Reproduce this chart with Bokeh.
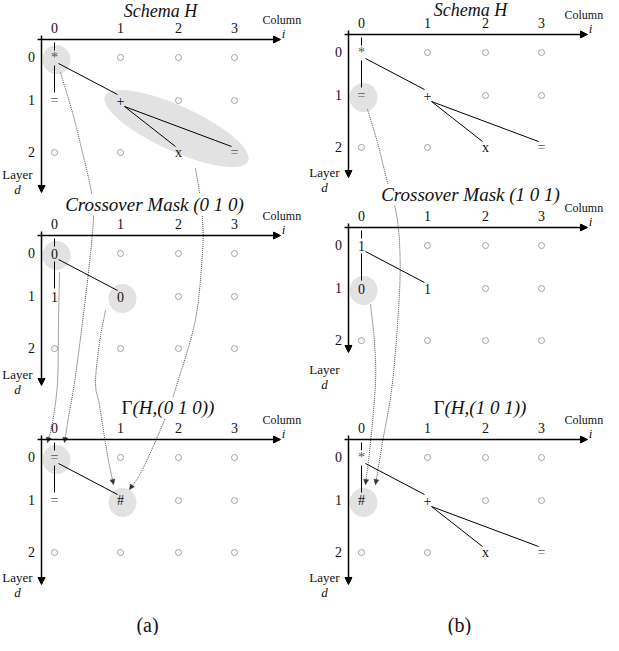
import numpy as np
from bokeh.plotting import figure
from bokeh.models import Range1d, Arrow, NormalHead, Label
from bokeh.core.properties import value
from bokeh.embed import file_html
from bokeh.resources import INLINE

# ---------------- content ----------------
panel_keys = ["a_top", "b_top", "a_mid", "b_mid", "a_bot", "b_bot"]
titles = ["Schema H", "Schema H", "Crossover Mask (0 1 0)", "Crossover Mask (1 0 1)",
          "(H,(0 1 0))", "(H,(1 0 1))"]
title_prefix = ["", "", "", "", "Γ", "Γ"]
col_ticks = ["0", "1", "2", "3"]
row_ticks = ["0", "1", "2"]
sub_labels = ["(a)", "(b)"]

# symbols at (row, col) in each panel; all other grid cells are empty circles
nodes = {
    "a_top": [("*", 0, 0), ("=", 1, 0), ("+", 1, 1), ("x", 2, 2), ("=", 2, 3)],
    "b_top": [("*", 0, 0), ("=", 1, 0), ("+", 1, 1), ("x", 2, 2), ("=", 2, 3)],
    "a_mid": [("0", 0, 0), ("1", 1, 0), ("0", 1, 1)],
    "b_mid": [("1", 0, 0), ("0", 1, 0), ("1", 1, 1)],
    "a_bot": [("=", 0, 0), ("=", 1, 0), ("#", 1, 1)],
    "b_bot": [("*", 0, 0), ("#", 1, 0), ("+", 1, 1), ("x", 2, 2), ("=", 2, 3)],
}
schema_edges = [((0, 0), (1, 1)), ((1, 1), (2, 2)), ((1, 1), (2, 3))]
mask_edges = [((0, 0), (1, 1))]
edges = {"a_top": schema_edges, "b_top": schema_edges, "a_mid": mask_edges,
         "b_mid": mask_edges, "a_bot": mask_edges, "b_bot": schema_edges}
# highlighted nodes (gray blobs)
highlights = {"a_top": [(0, 0)], "b_top": [(1, 0)], "a_mid": [(0, 0), (1, 1)],
              "b_mid": [(1, 0)], "a_bot": [(0, 0), (1, 1)], "b_bot": [(1, 0)]}
# highlighted subtree (elongated blob) : panel, first node, last node
subtree_blob = ("a_top", (1, 1), (2, 3))

# ---------------- layout ----------------
axis_x = [49, 356, 49, 356, 49, 356]
axis_y = [47, 42, 243, 235, 447, 447]
v_axis_end = [200, 185, 393, 360, 592, 592]
layer_label_y = [182, 180, 382, 377, 585, 585]
title_x = [168, 478, 162, 478, 140, 452]
title_y = [18, 17, 212, 202, 415, 415]
title_size = ["18px", "18px", "19px", "19px", "19px", "19px"]
title_bg = [None, None, "white", "white", "white", None]
col_dx = [13, 79, 137, 193]
row_dy = [18, 61, 113]
column_dx = [221, 216, 221, 216, 221, 216]
sub_label_x = [155, 467]
sub_label_y = 632

# dotted connector waypoints (page pixels)
curves = [
    [(68, 80), (80, 120), (90, 160), (99, 200), (101, 225), (97, 270), (90, 330), (82, 390), (76, 425), (72, 450)],
    [(203, 176), (207, 200), (210, 228), (210, 260), (203, 327), (185, 390), (173, 425), (150, 477), (137, 497)],
    [(67, 280), (66, 330), (65, 390), (60, 430), (55, 450)],
    [(113, 318), (107, 350), (103, 390), (107, 413), (115, 463), (121, 492)],
    [(375, 117), (385, 150), (395, 190), (403, 217), (407, 250), (407, 300), (400, 390), (390, 450), (383, 492)],
    [(378, 312), (382, 350), (383, 390), (378, 450), (373, 492)],
]

SERIF = "Liberation Serif"

p = figure(width=603, height=635, x_range=Range1d(8, 611), y_range=Range1d(643, 8),
           output_backend="svg", toolbar_location=None, min_border=0,
           x_axis_type=None, y_axis_type=None)
p.grid.visible = False
p.outline_line_color = None


def pos(i, r, c):
    return axis_x[i] + col_dx[c], axis_y[i] + row_dy[r]


def smooth(pts, n=10):
    P = np.array(pts, float)
    P = np.vstack([2 * P[0] - P[1], P, 2 * P[-1] - P[-2]])
    out = []
    for k in range(1, len(P) - 2):
        p0, p1, p2, p3 = P[k - 1], P[k], P[k + 1], P[k + 2]
        for t in np.linspace(0, 1, n, endpoint=False):
            out.append(0.5 * (2 * p1 + (-p0 + p2) * t + (2 * p0 - 5 * p1 + 4 * p2 - p3) * t * t
                              + (-p0 + 3 * p1 - 3 * p2 + p3) * t ** 3))
    out.append(P[-2])
    return np.array(out)


# ---- highlight blobs ----
ex, ey, ew, eh, ea = [], [], [], [], []
for i, k in enumerate(panel_keys):
    for (r, c) in highlights[k]:
        x, y = pos(i, r, c)
        ex.append(x + 2); ey.append(y + 2); ew.append(28); eh.append(29); ea.append(0)
pk, n0, n1 = subtree_blob
i = panel_keys.index(pk)
x0, y0 = pos(i, *n0)
x1, y1 = pos(i, *n1)
ang = np.degrees(np.arctan2(y1 - y0, x1 - x0))
ex.append((x0 + x1) / 2 - 1); ey.append((y0 + y1) / 2 + 2)
ew.append(np.hypot(x1 - x0, y1 - y0) + 32); eh.append(45); ea.append(-ang)
p.ellipse(x=ex, y=ey, width=ew, height=eh, angle=ea, angle_units="deg",
          fill_color="#e2e2e2", line_color=None)

# ---- tree lines ----
sx0, sy0, sx1, sy1 = [], [], [], []
for i, k in enumerate(panel_keys):
    rx, ry = pos(i, 0, 0)
    _, cy = pos(i, 1, 0)
    sx0 += [rx, rx]; sy0 += [axis_y[i] + 3, ry + 8]
    sx1 += [rx, rx]; sy1 += [ry - 7, cy - 8]
    for (a, b) in edges[k]:
        ax_, ay_ = pos(i, *a)
        bx_, by_ = pos(i, *b)
        sx0.append(ax_ + 4); sy0.append(ay_ + 6)
        sx1.append(bx_ - 3); sy1.append(by_ - 6)
p.segment(sx0, sy0, sx1, sy1, line_color="black", line_width=1)

# ---- empty circles and symbols ----
cxs, cys = [], []
tx, ty, tt, tc = [], [], [], []
for i, k in enumerate(panel_keys):
    used = {(r, c) for (_, r, c) in nodes[k]}
    for r in range(len(row_ticks)):
        for c in range(len(col_ticks)):
            x, y = pos(i, r, c)
            if (r, c) in used:
                continue
            cxs.append(x); cys.append(y)
    for (s, r, c) in nodes[k]:
        x, y = pos(i, r, c)
        tx.append(x); ty.append(y); tt.append(s)
        tc.append("#555555" if s in "*=" else "#111111")
p.scatter(cxs, cys, marker="circle", size=6, fill_color="white", line_color="#8a8a8a", line_width=0.8)
p.text(x=tx, y=ty, text=tt, text_color=tc, text_font=value(SERIF), text_font_size="14px",
       text_align="center", text_baseline="middle")

# ---- dotted connectors ----
for pts in curves:
    s = smooth(pts)
    p.line(s[:, 0], s[:, 1], line_color="#333333", line_width=0.9, line_dash="1 1")
    p.add_layout(Arrow(x_start=s[-3, 0], y_start=s[-3, 1], x_end=s[-1, 0], y_end=s[-1, 1],
                       line_alpha=0,
                       end=NormalHead(size=5, fill_color="#333333", line_color="#333333", line_width=0.5)))

# ---- axes, tick labels ----
lx, ly, lt = [], [], []
for i, k in enumerate(panel_keys):
    p.add_layout(Arrow(x_start=axis_x[i] - 4, y_start=axis_y[i], x_end=axis_x[i] + 239, y_end=axis_y[i],
                       line_width=1.5, end=NormalHead(size=7, fill_color="black", line_color="black")))
    p.add_layout(Arrow(x_start=axis_x[i], y_start=axis_y[i] - 4, x_end=axis_x[i], y_end=v_axis_end[i],
                       line_width=1.5, end=NormalHead(size=7, fill_color="black", line_color="black")))
    for c, t in enumerate(col_ticks):
        lx.append(axis_x[i] + col_dx[c]); ly.append(axis_y[i] - 12); lt.append(t)
    for r, t in enumerate(row_ticks):
        lx.append(axis_x[i] - 10); ly.append(axis_y[i] + row_dy[r] - 1); lt.append(t)
p.text(x=lx, y=ly, text=lt, text_color="#111111", text_font=value(SERIF), text_font_size="14px",
       text_align="center", text_baseline="middle")

# axis names
p.text(x=[axis_x[i] + column_dx[i] for i in range(6)], y=[axis_y[i] - 20 for i in range(6)],
       text=["Column"] * 6, text_font=value(SERIF), text_font_size="12px", text_align="left",
       text_baseline="middle", text_color="#111111")
p.text(x=[axis_x[i] + 242 for i in range(6)], y=[axis_y[i] - 6 for i in range(6)], text=["i"] * 6,
       text_font=value(SERIF), text_font_size="13px", text_font_style="italic", text_align="center",
       text_baseline="middle", text_color="#111111")
p.text(x=[axis_x[i] - 24 for i in range(6)], y=layer_label_y, text=["Layer"] * 6,
       text_font=value(SERIF), text_font_size="13px", text_align="center", text_baseline="middle",
       text_color="#111111")
p.text(x=[axis_x[i] - 24 for i in range(6)], y=[v + 15 for v in layer_label_y], text=["d"] * 6,
       text_font=value(SERIF), text_font_size="13px", text_font_style="italic", text_align="center",
       text_baseline="middle", text_color="#111111")

# ---- titles ----
for i in range(6):
    bg = title_bg[i]
    if title_prefix[i]:
        p.add_layout(Label(x=title_x[i], y=title_y[i], text=title_prefix[i], text_align="right",
                           text_baseline="middle", text_font=SERIF, text_font_size=title_size[i],
                           text_color="#111111", background_fill_color=bg))
        p.add_layout(Label(x=title_x[i], y=title_y[i], text=titles[i], text_align="left",
                           text_baseline="middle", text_font=SERIF, text_font_size=title_size[i],
                           text_font_style="italic", text_color="#111111", background_fill_color=bg))
    else:
        p.add_layout(Label(x=title_x[i], y=title_y[i], text=titles[i], text_align="center",
                           text_baseline="middle", text_font=SERIF, text_font_size=title_size[i],
                           text_font_style="italic", text_color="#111111", background_fill_color=bg))

p.text(x=sub_label_x, y=[sub_label_y] * 2, text=sub_labels, text_font=value(SERIF),
       text_font_size="20px", text_align="center", text_baseline="middle", text_color="#111111")

open("out.html", "w").write(file_html(p, INLINE))
